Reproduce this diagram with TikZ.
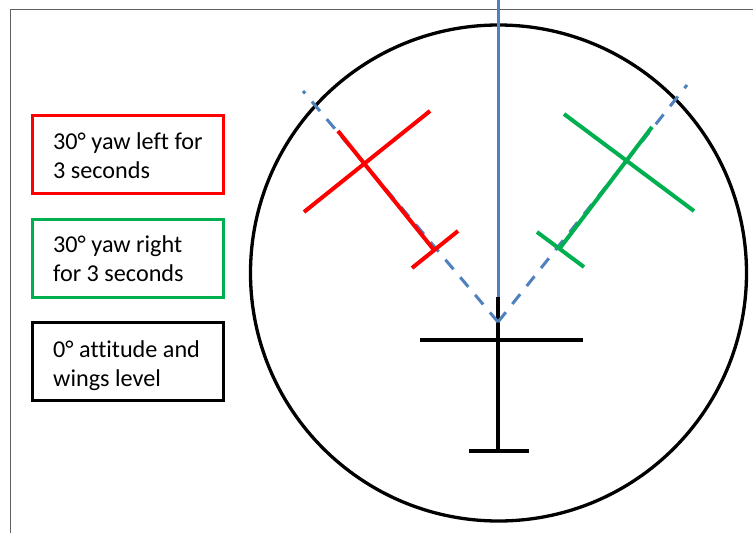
\documentclass[tikz,border=0pt]{standalone}
\usepackage{fontspec}
\setmainfont{Carlito}[Ligatures=CommonOff]
\definecolor{framegray}{HTML}{5F5F5F}
\definecolor{offred}{HTML}{FF0000}
\definecolor{offgreen}{HTML}{00B050}
\definecolor{offblue}{HTML}{4F81BD}
\tikzset{
  legendbox/.style={draw, rectangle, line width=3pt, minimum width=191pt, minimum height=78pt, inner sep=0pt},
  legendtext/.style={anchor=base west, inner sep=0pt, font=\fontsize{24.2}{29.3}\selectfont},
  planeline/.style={line width=4pt},
  axisline/.style={line width=3.8pt, black},
  bluesolid/.style={line width=3pt, offblue},
  bluedashed/.style={line width=3pt, offblue, dash pattern=on 12.5pt off 10.5pt},
}
\begin{document}
\begin{tikzpicture}[x=1pt,y=-1pt]
\useasboundingbox (0,0) rectangle (753,533);
\fill[white] (0,0) rectangle (753,533);
% frame
\draw[framegray, line width=1.6pt] (10.5,533) -- (10.5,9.5) -- (753,9.5);
% dial
\coordinate (dialc) at (498.5,273);
\draw[black, line width=3.3pt] (dialc) circle (248);
% heading line and reference aircraft
\coordinate (headtop) at (498,0);
\coordinate (headbot) at (498,297);
\coordinate (refbot) at (498,452.5);
\draw[bluesolid] (headtop) -- (headbot);
\draw[axisline] (headbot) -- (refbot);
\coordinate (wingL) at (420,340);
\coordinate (wingR) at (583,340);
\draw[axisline] (wingL) -- (wingR);
\coordinate (tailL) at (469,451);
\coordinate (tailR) at (529,451);
\draw[axisline] (tailL) -- (tailR);
% dashed yaw directions
\coordinate (vertex) at (498,322);
\coordinate (dashL) at (303,91);
\coordinate (dashR) at (687,85);
\draw[bluedashed] (vertex) -- (dashL);
\draw[bluedashed] (vertex) -- (dashR);
% red aircraft (yaw left)
\coordinate (rf1) at (338,131); \coordinate (rf2) at (434,250);
\coordinate (rw1) at (304,212); \coordinate (rw2) at (430,111);
\coordinate (rt1) at (412,268); \coordinate (rt2) at (458,231);
\draw[planeline, offred] (rf1) -- (rf2);
\draw[planeline, offred] (rw1) -- (rw2);
\draw[planeline, offred] (rt1) -- (rt2);
% green aircraft (yaw right)
\coordinate (gf1) at (560,248); \coordinate (gf2) at (652,127);
\coordinate (gw1) at (564,114); \coordinate (gw2) at (694,211);
\coordinate (gt1) at (537,232); \coordinate (gt2) at (584,267);
\draw[planeline, offgreen] (gf1) -- (gf2);
\draw[planeline, offgreen] (gw1) -- (gw2);
\draw[planeline, offgreen] (gt1) -- (gt2);
% legend
\node[legendbox, draw=offred] (leftbox) at (127.5,154) {};
\node[legendbox, draw=offgreen] (rightbox) at (127.5,258) {};
\node[legendbox, draw=black] (levelbox) at (127.5,361.5) {};
\node[legendtext] (lefttext) at (53,149.3) {\begin{tabular}[t]{@{}l@{}}30° yaw left for\\3 seconds\end{tabular}};
\node[legendtext] (righttext) at (53,252.5) {\begin{tabular}[t]{@{}l@{}}30° yaw right\\for 3 seconds\end{tabular}};
\node[legendtext] (leveltext) at (53,357.5) {\begin{tabular}[t]{@{}l@{}}0° attitude and\\wings level\end{tabular}};
\end{tikzpicture}
\end{document}
